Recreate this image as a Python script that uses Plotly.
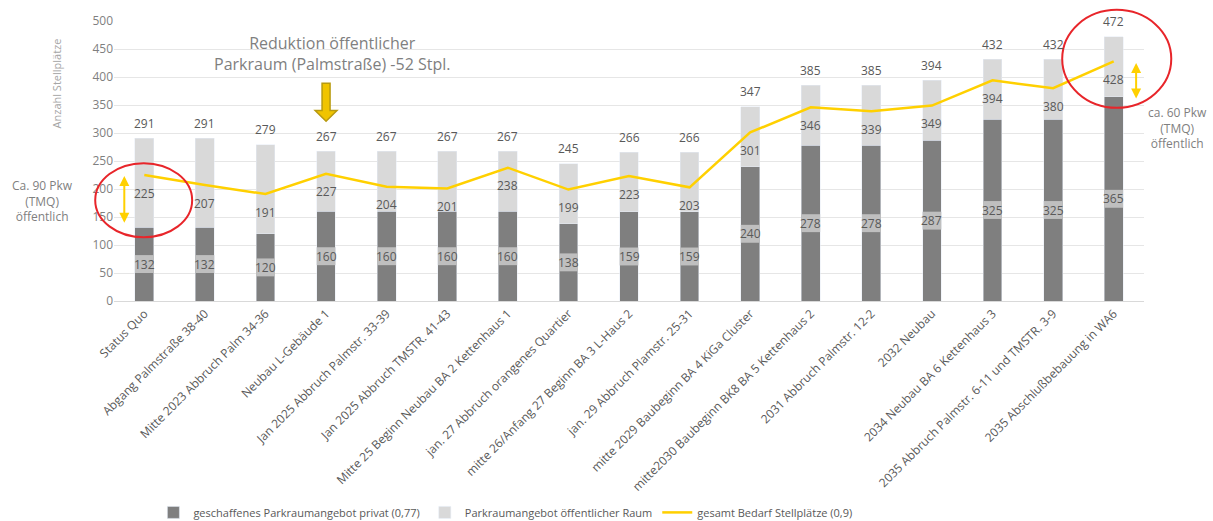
import plotly.graph_objects as go

categories = [
    "Status Quo", "Abgang Palmstraße 38-40", "Mitte 2023 Abbruch Palm 34-36",
    "Neubau L-Gebäude 1", "Jan 2025 Abbruch Palmstr. 33-39", "Jan 2025 Abbruch TMSTR. 41-43",
    "Mitte 25 Beginn Neubau BA 2 Kettenhaus 1", "jan. 27 Abbruch orangenes Quartier",
    "mitte 26/Anfang 27 Beginn BA 3 L-Haus 2", "jan. 29 Abbruch Plamstr. 25-31",
    "mitte 2029 Baubeginn BA 4 KiGa Cluster", "mitte2030 Baubeginn BK8 BA 5 Kettenhaus 2",
    "2031 Abbruch Palmstr. 12-2", "2032 Neubau", "2034 Neubau BA 6 Kettenhaus 3",
    "2035 Abbruch Palmstr. 6-11 und TMSTR. 3-9", "2035 Abschlußbebauung in WA6",
]
privat = [132, 132, 120, 160, 160, 160, 160, 138, 159, 159, 240, 278, 278, 287, 325, 325, 365]
oeffentlich = [159, 159, 159, 107, 107, 107, 107, 107, 107, 107, 107, 107, 107, 107, 107, 107, 107]
bedarf = [225, 207, 191, 227, 204, 201, 238, 199, 223, 203, 301, 346, 339, 349, 394, 380, 428]
totals = [p + o for p, o in zip(privat, oeffentlich)]

FONT = "Open Sans"
DARK = "#7f7f7f"
LIGHT = "#d9d9d9"
YELLOW = "#ffd000"
TXT = "#595959"
BARW = 0.31
N = len(categories)
YMAX = 500
idx = list(range(N))


def px_(i):  # category coordinate -> paper x
    return (i + 0.5) / N


def py_(v):  # value -> paper y
    return v / YMAX


fig = go.Figure()
fig.add_trace(go.Bar(x=idx, y=privat, name="geschaffenes Parkraumangebot privat (0,77)",
                     marker_color=DARK, width=BARW))
fig.add_trace(go.Bar(x=idx, y=oeffentlich, name="Parkraumangebot öffentlicher Raum",
                     marker_color=LIGHT, width=BARW))
fig.add_trace(go.Scatter(x=idx, y=bedarf, name="gesamt Bedarf Stellplätze (0,9)", mode="lines",
                         line=dict(color=YELLOW, width=2.5)))

shapes = []
annotations = []
for i, p in enumerate(privat):
    shapes.append(dict(type="rect", xref="x", yref="y", x0=i - BARW / 2, x1=i + BARW / 2,
                       y0=p / 2 - 16, y1=p / 2 + 16, fillcolor="#bfbfbf", line_width=0, layer="above"))
    annotations.append(dict(x=i, y=p / 2, xref="x", yref="y", text=str(p), showarrow=False,
                            font=dict(color=TXT, size=12, family=FONT)))
for i, t in enumerate(totals):
    annotations.append(dict(x=i, y=t, xref="x", yref="y", text=str(t), showarrow=False, yshift=15,
                            font=dict(color=TXT, size=12, family=FONT)))
for i, b in enumerate(bedarf):
    annotations.append(dict(x=i, y=b, xref="x", yref="y", text=str(b), showarrow=False, yshift=-18,
                            font=dict(color=TXT, size=12, family=FONT)))

# red ellipses (paper refs so they are not clipped)
shapes.append(dict(type="circle", xref="paper", yref="paper", x0=px_(-0.81), x1=px_(0.79),
                   y0=py_(114), y1=py_(246), line=dict(color="#e8252a", width=2)))
shapes.append(dict(type="circle", xref="paper", yref="paper", x0=px_(15.15), x1=px_(16.95),
                   y0=py_(345), y1=py_(520), line=dict(color="#e8252a", width=2)))
# block arrow (down) above Neubau L-Gebäude 1
ax = 3
shapes.append(dict(type="path", xref="x", yref="y",
                   path=f"M {ax-0.066} 389 L {ax+0.066} 389 L {ax+0.066} 340 L {ax+0.18} 340 "
                        f"L {ax} 321 L {ax-0.18} 340 L {ax-0.066} 340 Z",
                   fillcolor="#f0c400", line=dict(color="#b89a10", width=1.5)))

# yellow double arrows
for (xa, y0, y1) in [(-0.33, 137, 223), (16.37, 359, 425)]:
    annotations.append(dict(x=xa, y=y1, ax=xa, ay=y0, xref="x", yref="y", axref="x", ayref="y",
                            text="", showarrow=True, arrowhead=2, arrowside="end+start",
                            arrowsize=1, arrowwidth=2, arrowcolor=YELLOW))

annotations.append(dict(x=3.1, y=442, xref="x", yref="y", text="Reduktion öffentlicher<br>Parkraum (Palmstraße) -52 Stpl.",
                        showarrow=False, font=dict(color="#7f7f7f", size=16, family=FONT), align="center",
                        xanchor="center", yanchor="middle"))
annotations.append(dict(x=px_(-1.68), y=py_(179), xref="paper", yref="paper", text="Ca. 90 Pkw<br>(TMQ)<br>öffentlich",
                        showarrow=False, font=dict(color="#7f7f7f", size=12, family=FONT), align="center",
                        xanchor="center", yanchor="middle"))
annotations.append(dict(x=px_(17.05), y=py_(309), xref="paper", yref="paper", text="ca. 60 Pkw<br>(TMQ)<br>öffentlich",
                        showarrow=False, font=dict(color="#7f7f7f", size=12, family=FONT), align="center",
                        xanchor="center", yanchor="middle"))
# y-axis title (placed high, as in the reference)
annotations.append(dict(x=-0.056, y=py_(389), xref="paper", yref="paper", text="Anzahl Stellplätze",
                        textangle=-90, showarrow=False, font=dict(color="#a6a6a6", size=11, family=FONT),
                        xanchor="center", yanchor="middle"))

fig.update_layout(
    barmode="stack",
    width=1213, height=521,
    margin=dict(l=114, r=69, t=21, b=220, autoexpand=False),
    plot_bgcolor="white", paper_bgcolor="white",
    font=dict(family=FONT, color="#7f7f7f", size=12),
    showlegend=True,
    legend=dict(orientation="h", x=0.38, y=-0.755, xanchor="center", yanchor="middle",
                font=dict(size=11, color=TXT), traceorder="normal"),
    shapes=shapes, annotations=annotations,
    yaxis=dict(range=[0, YMAX], dtick=50, showgrid=True, gridcolor="#e6e6e6", zeroline=False,
               tickfont=dict(size=12, color="#7f7f7f"), showline=False, automargin=False),
    xaxis=dict(tickmode="array", tickvals=idx, ticktext=categories, tickangle=-45,
               range=[-0.5, N - 0.5], tickfont=dict(size=12, color=TXT), automargin=False,
               showline=True, linecolor="#d9d9d9", showgrid=False),
)
fig.write_html("out.html", config={"displayModeBar": False},
               post_script="document.body.style.margin='0';document.body.style.overflow='hidden';")
